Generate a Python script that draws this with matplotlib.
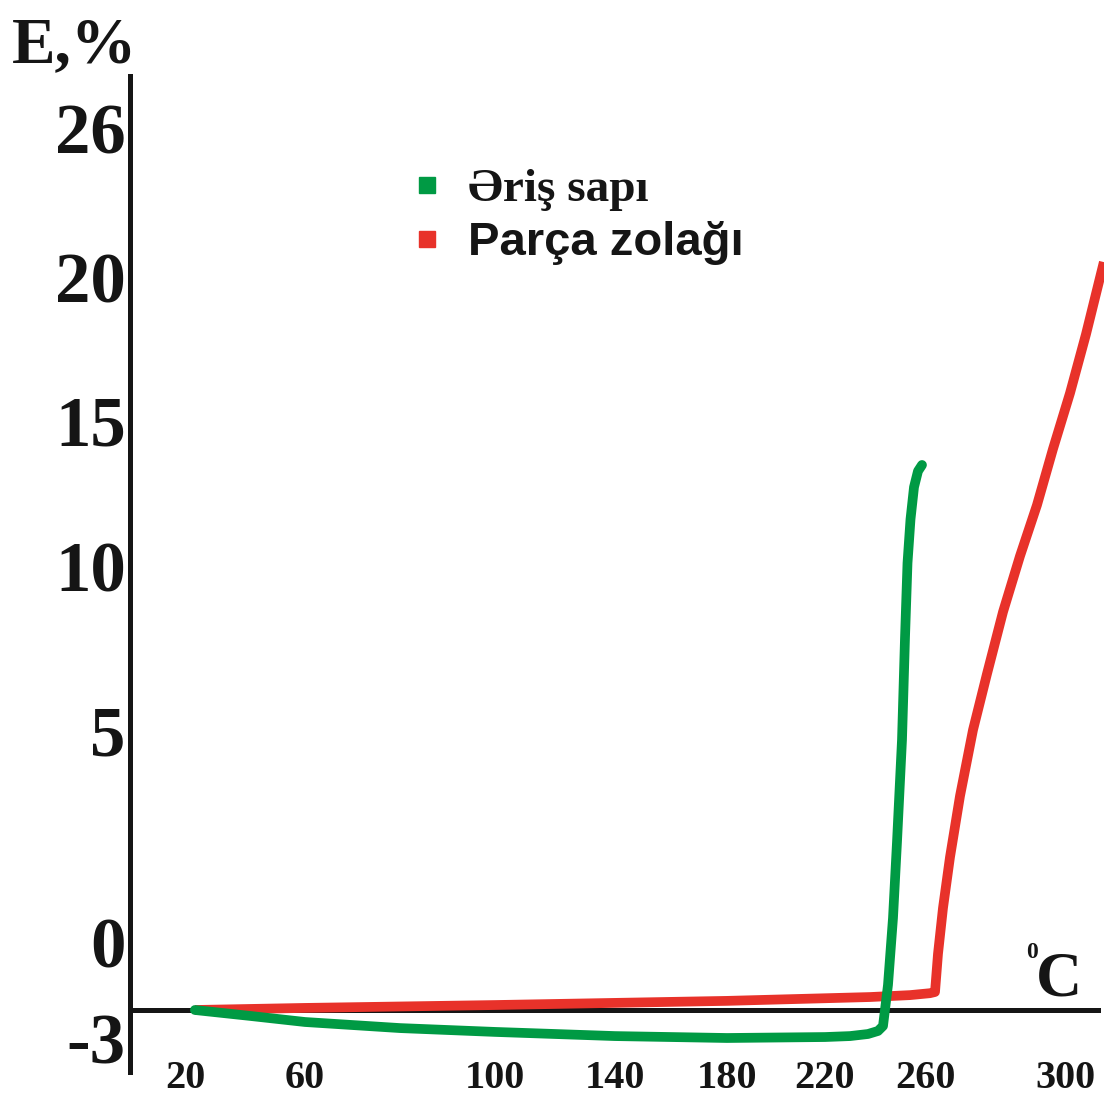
import numpy as np
import matplotlib
matplotlib.use('Agg')
import matplotlib.pyplot as plt
from matplotlib.lines import Line2D

plt.rcParams['font.family'] = ['Liberation Serif', 'DejaVu Serif']
plt.rcParams['font.weight'] = 'bold'

# ---------------- data ----------------
x_ticks = [20, 60, 100, 140, 180, 220, 260, 300]
y_ticks = [-3, 0, 5, 10, 15, 20, 26]

green_t = [23.3, 41.7, 60, 80, 100, 140, 180, 220, 230, 237.2, 241.2, 243.2,
           245.2, 247.2, 248.8, 250.8, 252.0, 253.0, 254.2, 255.6, 257.2, 258.8]
green_e = [-2.125, -2.31, -2.5, -2.69, -2.81, -2.94, -3.0, -2.97, -2.94, -2.875, -2.78, -2.625,
           -1.34, 0.57, 2.37, 4.79, 7.82, 10.1, 11.6, 12.7, 13.25, 13.46]

red_t = [23.3, 60, 100, 180, 238, 254, 261.4, 262.86, 263.71, 265.14, 267.14, 270.0,
         273.71, 277.71, 282.29, 287.14, 292.0, 296.57, 301.43, 306.0, 311.1]
red_e = [-2.125, -2.06, -1.97, -1.84, -1.72, -1.66, -1.6, -1.5625, -0.375, 0.806, 2.01, 3.46,
         5.03, 6.73, 8.61, 10.34, 12.09, 14.01, 15.94, 18.0, 20.6]

series_labels = ['Əriş sapı', 'Parça zolağı']
axis_level = -2.125

GREEN = '#009A44'
RED = '#E8322A'
INK = '#151515'

# ------------- hand-drawn (non-uniform) axis scales -------------
W, H = 1104, 1097
XA = [0, 20, 60, 100, 140, 180, 220, 260, 300, 320]
XP = [125, 185, 305, 495, 615, 727, 825, 925, 1065, 1135]
YA = [-5, -3, 0, 5, 10, 15, 20, 26, 30]
YP = [H - p for p in [1102, 1038, 942, 731, 566, 420, 277, 128, 29]]

def fx(v):
    return np.interp(v, XA, XP)

def fxi(p):
    return np.interp(p, XP, XA)

def fy(v):
    return np.interp(v, YA, YP)

def fyi(p):
    return np.interp(p, YP, YA)

fig = plt.figure(figsize=(W / 100, H / 100), dpi=100)
ax = fig.add_axes([130 / W, 25 / H, (1098 - 130) / W, (1021 - 25) / H])
ax.set_xscale('function', functions=(fx, fxi))
ax.set_yscale('function', functions=(fy, fyi))
ax.set_xlim(fxi(130), fxi(1098))
ax.set_ylim(fyi(25), fyi(1021))

ax.plot(red_t, red_e, color=RED, lw=7, solid_joinstyle='round',
        solid_capstyle='butt', zorder=3, clip_on=False)
ax.plot(green_t, green_e, color=GREEN, lw=7, solid_joinstyle='round',
        solid_capstyle='round', zorder=4, clip_on=False)

for s in ('top', 'right'):
    ax.spines[s].set_visible(False)
ax.spines['left'].set_linewidth(3.6)
ax.spines['left'].set_color(INK)
ax.spines['bottom'].set_linewidth(3.6)
ax.spines['bottom'].set_color(INK)
ax.spines['bottom'].set_position(('data', axis_level))
ax.spines['bottom'].set_zorder(2)

ax.set_xticks(x_ticks)
ax.set_xticklabels([str(v) for v in x_ticks])
ax.set_yticks(y_ticks)
ax.set_yticklabels([str(v) for v in y_ticks])
ax.minorticks_off()
ax.tick_params(axis='x', length=0, labelsize=29, pad=36, labelcolor=INK)
ax.tick_params(axis='y', length=0, labelsize=51, pad=3, labelcolor=INK)

fig.text(12 / W, 1 - 62 / H, 'E,%', fontsize=47, va='baseline', ha='left', color=INK)
fig.text(1036 / W, 1 - 996 / H, 'C', fontsize=46, va='baseline', ha='left', color=INK)
fig.text(1026 / W, 1 - 958 / H, '0', fontsize=17, va='baseline', ha='left', color=INK)

handles = [Line2D([], [], marker='s', linestyle='none', markersize=12, color=GREEN),
           Line2D([], [], marker='s', linestyle='none', markersize=12, color=RED)]
leg = ax.legend(handles, series_labels, loc='upper left',
                bbox_to_anchor=(414 / W, 1 - 168 / H), bbox_transform=fig.transFigure,
                frameon=False, fontsize=34, handlelength=0.55, handletextpad=0.6,
                labelspacing=0.22, borderpad=0, borderaxespad=0)
txts = leg.get_texts()
txts[0].set_fontfamily(['Liberation Serif', 'DejaVu Serif'])
txts[1].set_fontfamily(['Liberation Sans', 'DejaVu Sans'])
for t in txts:
    t.set_color(INK)
    t.set_fontweight('bold')

fig.savefig('out.png', dpi=100, facecolor='white')
